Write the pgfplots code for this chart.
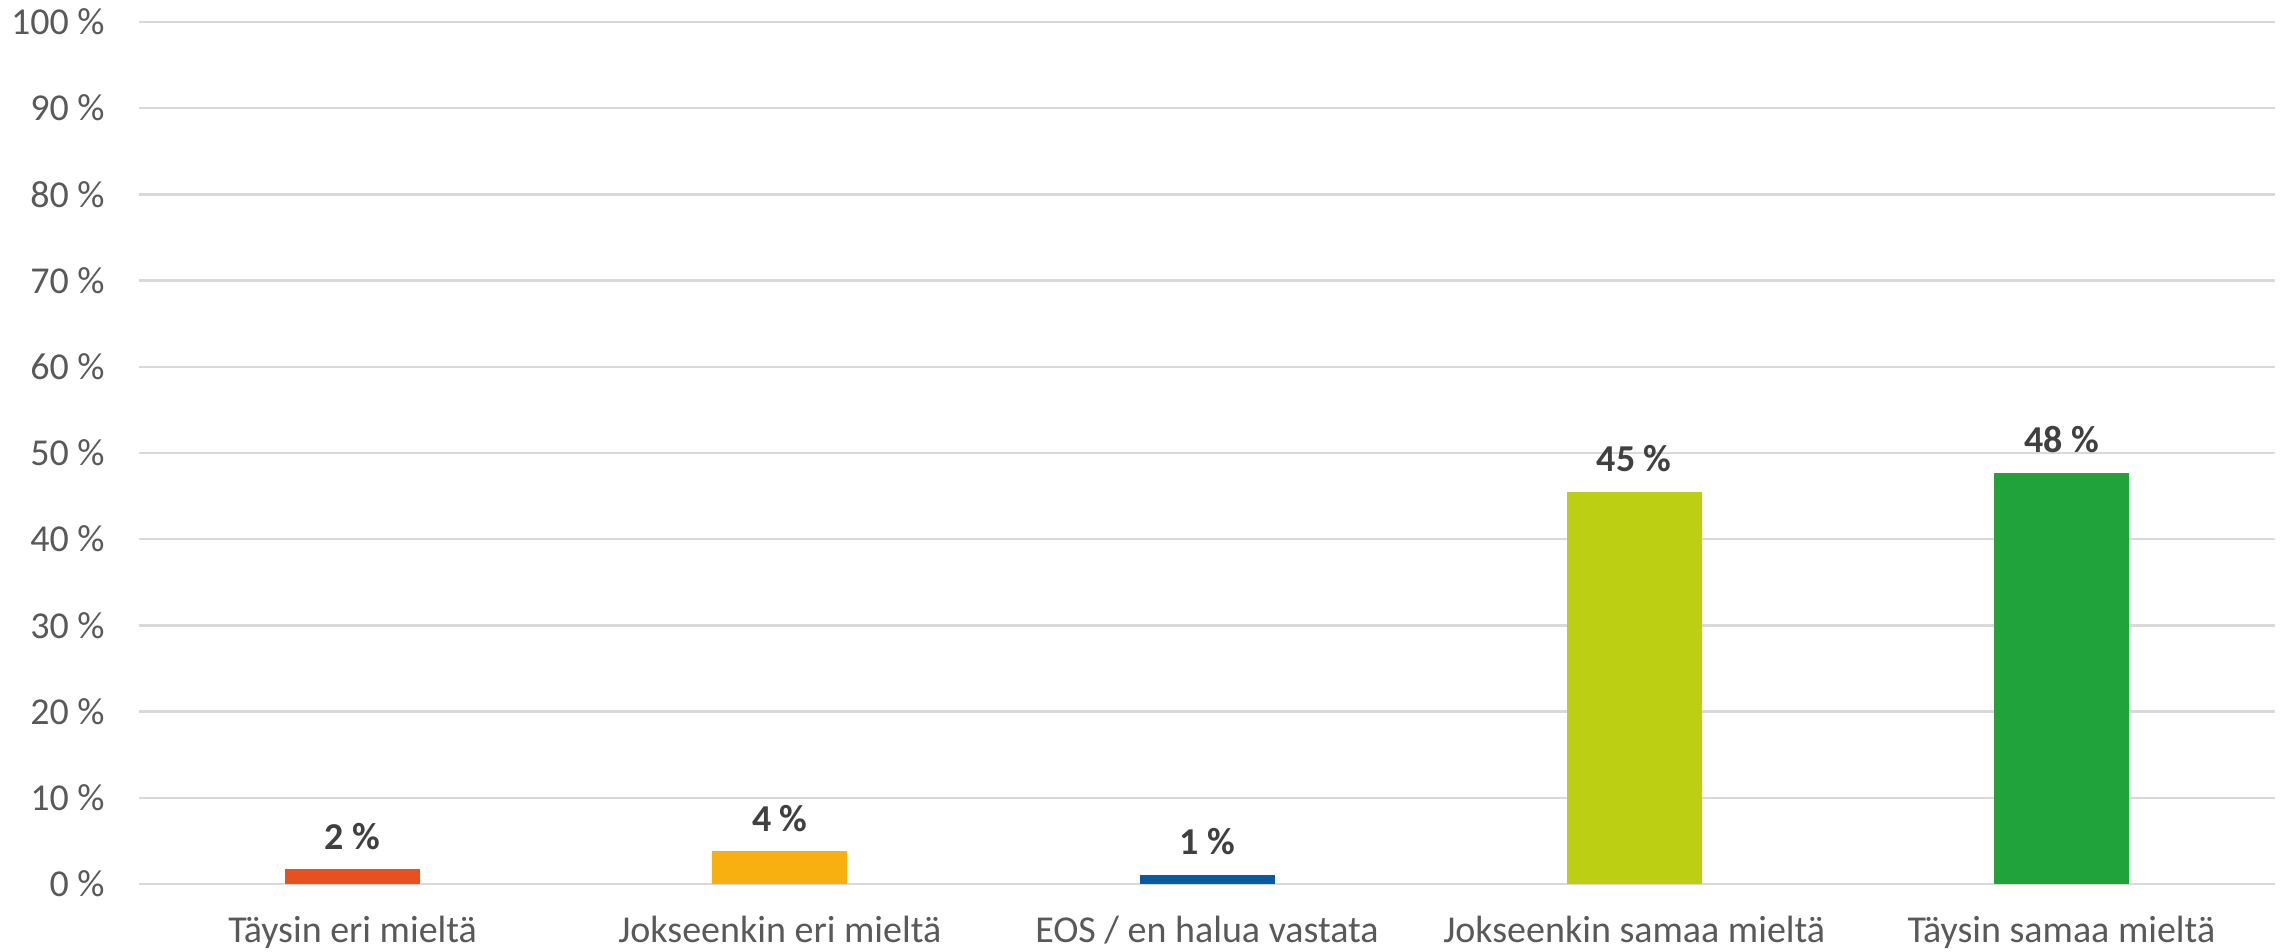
\documentclass[border=0pt]{standalone}
\usepackage{fontspec}
\setmainfont{Carlito}
\usepackage{pgfplots}
\pgfplotsset{compat=1.18}
\definecolor{c1}{HTML}{E8501E}
\definecolor{c2}{HTML}{F8B010}
\definecolor{c3}{HTML}{0A5AA0}
\definecolor{c4}{HTML}{BDCF13}
\definecolor{c5}{HTML}{20A33A}
\definecolor{gridgray}{HTML}{D9D9D9}
\definecolor{tickgray}{HTML}{595959}
\definecolor{labgray}{HTML}{404040}
\begin{document}
\begin{tikzpicture}
\useasboundingbox (-34.75pt,-17pt) rectangle (537.75pt,221pt);
\begin{axis}[
  scale only axis, width=534pt, height=215.5pt,
  xmin=-0.5, xmax=4.5, ymin=0, ymax=100,
  ybar, bar shift=0pt, bar width=33.75pt,
  xtick={0,1,2,3,4},
  xticklabels={Täysin eri mieltä, Jokseenkin eri mieltä, EOS / en halua vastata, Jokseenkin samaa mieltä, Täysin samaa mieltä},
  ytick={0,10,...,100},
  yticklabels={0 \%,10 \%,20 \%,30 \%,40 \%,50 \%,60 \%,70 \%,80 \%,90 \%,100 \%},
  ymajorgrids, grid style={draw=gridgray, line width=0.6pt},
  axis line style={draw=none}, major tick length=0pt, tick style={draw=none},
  ticklabel style={font=\fontsize{9.5}{11}\selectfont, text=tickgray},
  yticklabel style={anchor=east, inner sep=0pt, xshift=-8.4pt},
  xticklabel style={anchor=base, inner sep=0pt, yshift=-14.5pt},
  nodes near coords, point meta=explicit symbolic,
  every node near coord/.append style={anchor=base, inner sep=0pt, yshift=5pt, font=\bfseries\fontsize{9.5}{11}\selectfont, text=labgray},
]
\addplot[fill=c1, draw=none] coordinates {(0,1.7) [2 \%]};
\addplot[fill=c2, draw=none] coordinates {(1,3.8) [4 \%]};
\addplot[fill=c3, draw=none] coordinates {(2,1.1) [1 \%]};
\addplot[fill=c4, draw=none] coordinates {(3,45.5) [45 \%]};
\addplot[fill=c5, draw=none] coordinates {(4,47.7) [48 \%]};
\end{axis}
\end{tikzpicture}
\end{document}
